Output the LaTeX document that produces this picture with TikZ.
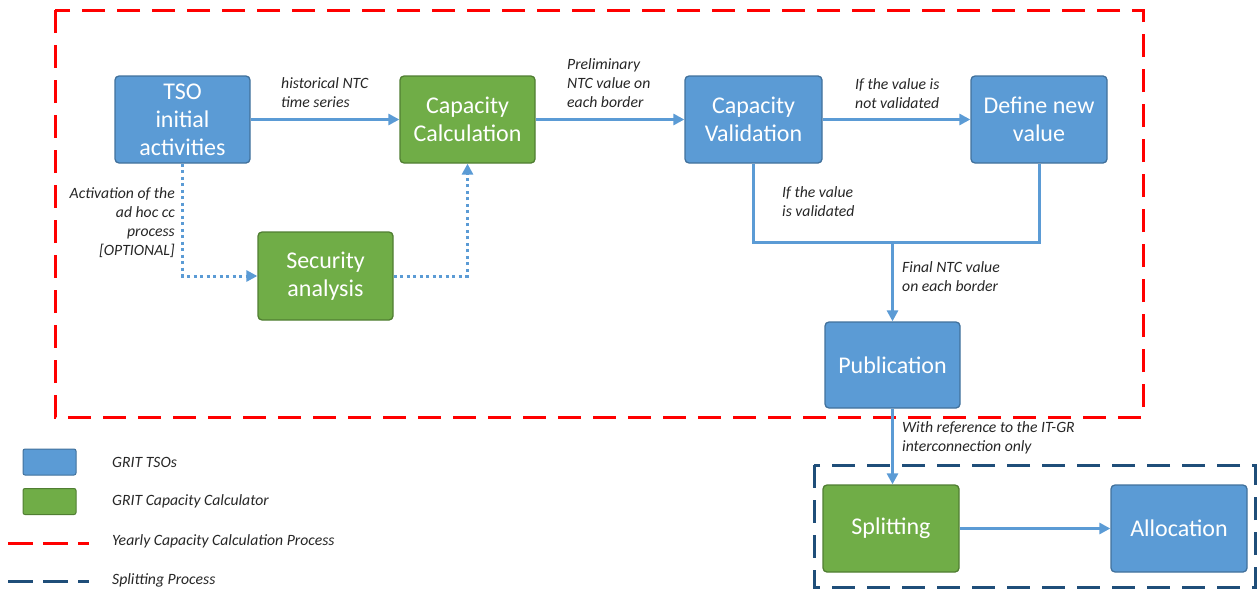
\documentclass[tikz,border=0pt]{standalone}
\usepackage{fontspec}
\setmainfont{Carlito}
\usetikzlibrary{arrows.meta}
\definecolor{bfill}{HTML}{5B9BD5}
\definecolor{bdraw}{HTML}{41719C}
\definecolor{gfill}{HTML}{70AD47}
\definecolor{gdraw}{HTML}{507E32}
\definecolor{arr}{HTML}{5B9BD5}
\definecolor{navy}{HTML}{1F4E79}
\definecolor{lbl}{HTML}{262626}
\tikzset{
  x=1pt, y=-1pt,
  proc/.style={rounded corners=4pt, line width=1.3pt, minimum width=135pt, minimum height=87pt,
    text=white, align=center, font=\fontsize{24}{28}\selectfont, inner sep=0pt},
  bluebox/.style={proc, fill=bfill, draw=bdraw},
  greenbox/.style={proc, fill=gfill, draw=gdraw},
  lab/.style={text=lbl, align=left, font=\fontsize{15.7}{19}\selectfont\itshape, inner sep=0pt},
  conn/.style={draw=arr, line width=3pt, -{Triangle[length=11pt,width=11pt]}},
  plain/.style={draw=arr, line width=3pt},
  dotconn/.style={draw=arr, line width=3pt, dash pattern=on 3pt off 3.5pt, -{Triangle[length=11pt,width=11pt]}},
  reddash/.style={draw=red, line width=3pt, dash pattern=on 23pt off 12pt},
  navydash/.style={draw=navy, line width=3pt, dash pattern=on 23pt off 12pt},
}
\begin{document}
\begin{tikzpicture}
\useasboundingbox (0,0) rectangle (1257,589);
% group frames
\draw[reddash] (55,10) rectangle (1143,417);
\draw[navydash] (814,465) rectangle (1255,587);

% process boxes
\node[bluebox] (tso) at (182.5,119.5) {TSO\\initial\\activities};
\node[greenbox] (cc) at (467.5,119.5) {Capacity\\Calculation};
\node[bluebox, minimum width=137pt] (cv) at (753.5,119.5) {Capacity\\Validation};
\node[bluebox, minimum width=136pt] (dn) at (1039,119.5) {Define new\\value};
\node[greenbox, minimum height=88pt] (sa) at (325.5,276) {Security\\analysis};
\node[bluebox, minimum height=86pt] (pub) at (892.5,365) {Publication};
\node[greenbox, minimum width=136pt] (spl) at (891,528.5) {Splitting};
\node[bluebox, minimum width=136pt] (alc) at (1179,528.5) {Allocation};

% connectors
\draw[conn] (tso) -- (cc);
\draw[conn] (cc) -- (cv);
\draw[conn] (cv) -- (dn);
\coordinate (j) at (892.5,242);
\draw[plain, line join=miter] (cv.south) -- (cv.south |- j) -- (dn.south |- j) -- (dn.south);
\draw[conn] (j) -- (pub.north);
\draw[dotconn] (tso.south) |- (sa.west);
\draw[dotconn] (sa.east) -| (cc.south);
\draw[conn] (pub.south) -- (pub.south |- spl.north);
\draw[conn] (spl) -- (alc);

% labels
\node[lab, anchor=north west] (l1) at (281,77) {historical NTC\\time series};
\node[lab, anchor=north west] (l2) at (567,58) {Preliminary\\NTC value on\\each border};
\node[lab, anchor=north west] (l3) at (855,78) {If the value is\\not validated};
\node[lab, anchor=north west] (l4) at (782,186) {If the value\\is validated};
\node[lab, anchor=north west] (l5) at (902,261) {Final NTC value\\on each border};
\node[lab, anchor=north east, align=right] (l6) at (175,187) {Activation of the\\ad hoc cc\\process\\{[OPTIONAL]}};
\node[lab, anchor=north west] (l7) at (902,421) {With reference to the IT-GR\\interconnection only};

% legend
\node[fill=bfill, draw=bdraw, line width=1pt, rounded corners=2pt, minimum width=53pt, minimum height=26pt, inner sep=0pt] (kb) at (49.5,462) {};
\node[fill=gfill, draw=gdraw, line width=1pt, rounded corners=2pt, minimum width=53pt, minimum height=26pt, inner sep=0pt] (kg) at (49.5,501.5) {};
\coordinate (kr1) at (8,543); \coordinate (kr2) at (89,543);
\draw[draw=red, line width=3pt, dash pattern=on 25pt off 10pt] (kr1) -- (kr2);
\coordinate (kn1) at (8,581); \coordinate (kn2) at (89,581);
\draw[draw=navy, line width=3pt, dash pattern=on 25pt off 10pt] (kn1) -- (kn2);
\node[lab, anchor=west] (t1) at (112,462) {GRIT TSOs};
\node[lab, anchor=west] (t2) at (112,501) {GRIT Capacity Calculator};
\node[lab, anchor=west] (t3) at (112,541) {Yearly Capacity Calculation Process};
\node[lab, anchor=west] (t4) at (112,580) {Splitting Process};
\end{tikzpicture}
\end{document}
